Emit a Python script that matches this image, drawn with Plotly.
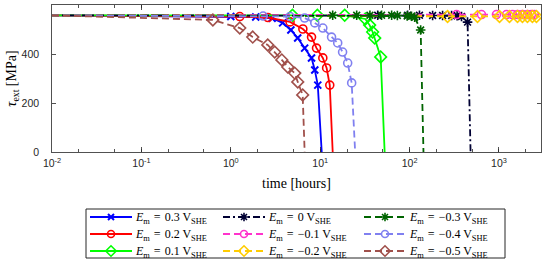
import plotly.graph_objects as go

# ---- data ----
t_start = 0.01
tau_start = 558

labels = ["0.3", "0.2", "0.1", "0", "−0.1", "−0.2", "−0.3", "−0.4", "−0.5"]

t_p03 = [1.0, 1.9, 2.9, 3.8, 4.7, 5.6, 6.7, 8.0, 8.7, 9.4]
tau_p03 = [553, 551, 546, 527, 498, 465, 424, 384, 335, 273]
fail_p03 = 10.4

t_p02 = [1.26, 2.6, 4.6, 6.4, 8.0, 9.1, 10.7, 11.8, 12.8]
tau_p02 = [553, 549, 531, 502, 469, 424, 384, 343, 273]
fail_p02 = 13.8

t_p01 = [4.9, 9.3, 18.8, 32, 35.7, 38.6, 40.7, 47.5]
tau_p01 = [558, 558, 558, 543, 518, 490, 465, 388]
fail_p01 = 52.6

t_0 = [44, 95, 129, 181, 234, 295, 340, 381, 445]
tau_0 = [558, 558, 558, 557, 557, 557, 556, 553, 530]
fail_0 = 481

t_m01 = [335, 637, 937, 1213, 1416, 1611, 1831, 2081, 2307, 2495]
tau_m01 = [561, 561, 561, 561, 561, 561, 561, 561, 561, 561]
end_m01 = 2800

t_m02 = [266, 575, 1014, 1310, 1611, 1831, 2081, 2366, 2624]
tau_m02 = [553, 553, 553, 553, 553, 553, 553, 553, 553]
end_m02 = 2900

t_m03 = [13.8, 25.6, 36, 48.6, 63, 73, 94, 105, 114, 133]
tau_m03 = [558, 558, 558, 558, 558, 557, 555, 554, 550, 498]
fail_m03 = 143

t_m04 = [2.3, 4.6, 6.7, 8.7, 10.7, 13.4, 15.7, 17.8, 20.3, 22.5]
tau_m04 = [555, 553, 547, 527, 506, 469, 445, 408, 363, 282]
fail_m04 = 24.6

t_m05 = [0.63, 1.26, 1.76, 2.59, 3.10, 3.72, 4.34, 5.19, 5.61, 6.37]
tau_m05 = [539, 506, 469, 437, 408, 376, 347, 322, 286, 233]
fail_m05 = 6.7

x_ticks = [0.01, 0.1, 1, 10, 100, 1000]
x_ticktext = ["10<sup>-2</sup>", "10<sup>-1</sup>", "10<sup>0</sup>",
              "10<sup>1</sup>", "10<sup>2</sup>", "10<sup>3</sup>"]
y_ticks = [0, 200, 400, 600]

# ---- styles ----
W, H = 543, 260
DASH = "7px,4px"
DASHDOT = "7px,3px,2px,3px"
series = [
    # label, t, tau, end_t, end_is_failure, color, dash, symbol
    (labels[0], t_p03, tau_p03, fail_p03, True, "#0000ff", "solid", "x-thin-open"),
    (labels[1], t_p02, tau_p02, fail_p02, True, "#ff0000", "solid", "circle-open"),
    (labels[2], t_p01, tau_p01, fail_p01, True, "#00ff00", "solid", "diamond-open"),
    (labels[3], t_0, tau_0, fail_0, True, "#000033", DASHDOT, "asterisk-open"),
    (labels[4], t_m01, tau_m01, end_m01, False, "#ff33cc", DASH, "circle-open"),
    (labels[5], t_m02, tau_m02, end_m02, False, "#ffcc00", DASH, "diamond-open"),
    (labels[6], t_m03, tau_m03, fail_m03, True, "#006400", DASH, "asterisk-open"),
    (labels[7], t_m04, tau_m04, fail_m04, True, "#8080f0", DASH, "circle-open"),
    (labels[8], t_m05, tau_m05, fail_m05, True, "#a0504b", DASH, "diamond-open"),
]

fig = go.Figure()
LW = 1.8


def msize(sym):
    return {"x-thin-open": 7, "circle-open": 8, "diamond-open": 9, "asterisk-open": 8}[sym]


def mlw(sym):
    return {"x-thin-open": 2.0, "asterisk-open": 1.6}.get(sym, 1.6)


for lab, t, tau, tend, failed, col, dash, sym in series:
    xs = [t_start] + list(t) + [tend]
    ys = [tau_start] + list(tau) + ([0] if failed else [tau[-1]])
    fig.add_trace(go.Scatter(x=xs, y=ys, mode="lines",
                             line=dict(color=col, width=LW, dash=dash),
                             showlegend=False, hoverinfo="skip"))
    fig.add_trace(go.Scatter(x=t, y=tau, mode="markers",
                             marker=dict(symbol=sym, size=msize(sym), color=col,
                                         line=dict(color=col, width=mlw(sym))),
                             showlegend=False, hoverinfo="skip"))

# ---- legend (3 columns x 3 rows), drawn in a pixel-coordinate overlay ----
AX = "#262626"
LEG_BOX = (86, 209, 505, 258)
LEG_COLS = [90, 223, 364]
LEG_ROWS = [217, 234, 251]
SAMPLE = 42
SP = "\u2004"
for i, (lab, t, tau, tend, failed, col, dash, sym) in enumerate(series):
    cx = LEG_COLS[i // 3]
    cy = LEG_ROWS[i % 3]
    fig.add_trace(go.Scatter(
        x=[cx, cx + SAMPLE], y=[cy, cy], mode="lines", xaxis="x2", yaxis="y2",
        line=dict(color=col, width=LW, dash=dash), showlegend=False, hoverinfo="skip"))
    fig.add_trace(go.Scatter(
        x=[cx + SAMPLE / 2], y=[cy], mode="markers", xaxis="x2", yaxis="y2",
        marker=dict(symbol=sym, size=msize(sym) - 1, color=col,
                    line=dict(color=col, width=mlw(sym))),
        showlegend=False, hoverinfo="skip"))
    fig.add_annotation(
        x=cx + SAMPLE + 1, y=cy + 0.5, xref="x2", yref="y2", xanchor="left", yanchor="middle",
        showarrow=False,
        text="<i>E</i><sub>m</sub>" + SP + "=" + SP + lab + " V<sub>SHE</sub>",
        font=dict(family="Liberation Serif, serif", size=12, color="black"))

fig.add_shape(type="rect", xref="x2", yref="y2",
              x0=LEG_BOX[0], y0=LEG_BOX[1], x1=LEG_BOX[2], y1=LEG_BOX[3],
              line=dict(color=AX, width=1), fillcolor="rgba(0,0,0,0)", layer="below")

fig.update_layout(
    width=W, height=H,
    margin=dict(l=0, r=0, t=0, b=0, autoexpand=False),
    plot_bgcolor="rgba(0,0,0,0)", paper_bgcolor="white",
    font=dict(family="Liberation Sans, Arial, sans-serif", size=10.5, color=AX),
    showlegend=False,
    xaxis=dict(
        domain=[52 / W, 541 / W], anchor="y",
        type="log", range=[-2, 3.47],
        tickvals=x_ticks, ticktext=x_ticktext,
        ticks="inside", ticklen=5, tickcolor=AX, tickwidth=0.8,
        minor=dict(ticks="inside", ticklen=3, tickcolor=AX, tickwidth=0.8, showgrid=False),
        showline=True, linecolor=AX, linewidth=0.8, mirror="ticks",
        showgrid=False, zeroline=False, ticklabelstandoff=2,
        title=dict(text="time [hours]", standoff=9,
                   font=dict(family="Liberation Serif, serif", size=14, color="black")),
    ),
    yaxis=dict(
        domain=[1 - 152 / H, 1 - 5 / H], anchor="x",
        range=[0, 600], tickvals=y_ticks,
        ticks="inside", ticklen=4, tickcolor=AX, tickwidth=0.8,
        showline=True, linecolor=AX, linewidth=0.8, mirror="ticks",
        showgrid=False, zeroline=False, ticklabelstandoff=10,
        title=dict(text="<i>τ</i><sub>ext</sub> [MPa]", standoff=1,
                   font=dict(family="Liberation Serif, serif", size=14, color="black")),
    ),
    xaxis2=dict(domain=[0, 1], range=[0, W], anchor="y2", visible=False, fixedrange=True),
    yaxis2=dict(domain=[0, 1], range=[H, 0], anchor="x2", visible=False, fixedrange=True),
)

fig.write_html("out.html", config={"displayModeBar": False, "staticPlot": True},
               post_script="document.body.style.margin='0';document.body.style.padding='0';")
